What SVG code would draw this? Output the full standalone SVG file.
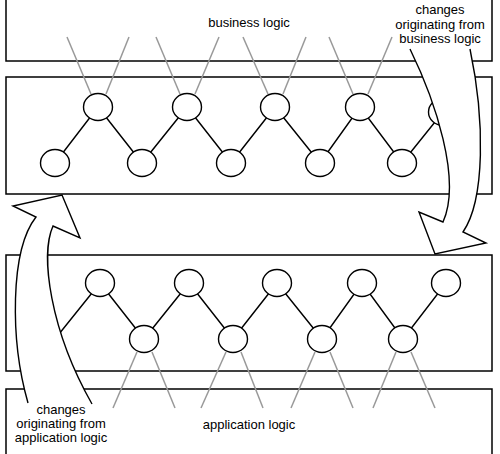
<svg xmlns="http://www.w3.org/2000/svg" width="500" height="454" viewBox="0 0 500 454">
<style>
.box{fill:none;stroke:#000;stroke-width:1.5}
.edge{stroke:#000;stroke-width:1.4}
.gray{stroke:#999;stroke-width:1.5}
.node{fill:#fff;stroke:#000;stroke-width:1.4}
.arrow{fill:#fff;stroke:#000;stroke-width:1.4;stroke-linejoin:miter}
text{font-family:"Liberation Sans",Arial,sans-serif;font-size:13px;fill:#000;text-anchor:middle}
</style>
<rect width="500" height="454" fill="#fff"/>
<g id="layers">
<rect id="layer1" class="box" x="6" y="-10" width="486" height="71"/>
<rect id="layer2" class="box" x="6" y="77" width="486" height="117"/>
<rect id="layer3" class="box" x="6" y="255" width="486" height="116"/>
<rect id="layer4" class="box" x="6" y="389" width="486" height="80"/>
</g>
<g id="connectors">
<g id="gray-top">
<line class="gray" x1="91" y1="94" x2="67" y2="37"/>
<line class="gray" x1="106" y1="94" x2="129" y2="37"/>
<line class="gray" x1="180" y1="94" x2="156" y2="37"/>
<line class="gray" x1="195" y1="94" x2="219" y2="37"/>
<line class="gray" x1="268" y1="94" x2="243" y2="37"/>
<line class="gray" x1="283" y1="94" x2="306" y2="37"/>
<line class="gray" x1="353" y1="94" x2="329" y2="37"/>
<line class="gray" x1="368" y1="94" x2="392" y2="37"/>
</g>
<g id="gray-bottom">
<line class="gray" x1="137" y1="352" x2="113" y2="408"/>
<line class="gray" x1="152" y1="352" x2="175" y2="408"/>
<line class="gray" x1="226" y1="352" x2="201" y2="408"/>
<line class="gray" x1="241" y1="352" x2="263" y2="408"/>
<line class="gray" x1="315" y1="352" x2="291" y2="408"/>
<line class="gray" x1="330" y1="352" x2="353" y2="408"/>
<line class="gray" x1="396" y1="352" x2="373" y2="408"/>
<line class="gray" x1="411" y1="352" x2="435" y2="408"/>
</g>
<g id="edges-upper">
<polyline class="edge" fill="none" points="55,163 98,107 142,163 187,107 231,163 275,107 320,163 360,107 402,163 443,112"/>
</g>
<g id="edges-lower">
<polyline class="edge" fill="none" points="55,339 100,283 144,339 189,283 233,339 277,283 322,339 362,283 403,339 446,283"/>
</g>
</g>
<g id="nodes-upper">
<ellipse id="u1" class="node" cx="55" cy="163" rx="14.5" ry="13.5"/>
<ellipse id="u2" class="node" cx="98" cy="107" rx="14.5" ry="13.5"/>
<ellipse id="u3" class="node" cx="142" cy="163" rx="14.5" ry="13.5"/>
<ellipse id="u4" class="node" cx="187" cy="107" rx="14.5" ry="13.5"/>
<ellipse id="u5" class="node" cx="231" cy="163" rx="14.5" ry="13.5"/>
<ellipse id="u6" class="node" cx="275" cy="107" rx="14.5" ry="13.5"/>
<ellipse id="u7" class="node" cx="320" cy="163" rx="14.5" ry="13.5"/>
<ellipse id="u8" class="node" cx="360" cy="107" rx="14.5" ry="13.5"/>
<ellipse id="u9" class="node" cx="402" cy="163" rx="14.5" ry="13.5"/>
<ellipse id="u10" class="node" cx="443" cy="112" rx="14.5" ry="13.5"/>
</g>
<g id="nodes-lower">
<ellipse id="l2" class="node" cx="100" cy="283" rx="14.5" ry="13.5"/>
<ellipse id="l3" class="node" cx="144" cy="339" rx="14.5" ry="13.5"/>
<ellipse id="l4" class="node" cx="189" cy="283" rx="14.5" ry="13.5"/>
<ellipse id="l5" class="node" cx="233" cy="339" rx="14.5" ry="13.5"/>
<ellipse id="l6" class="node" cx="277" cy="283" rx="14.5" ry="13.5"/>
<ellipse id="l7" class="node" cx="322" cy="339" rx="14.5" ry="13.5"/>
<ellipse id="l8" class="node" cx="362" cy="283" rx="14.5" ry="13.5"/>
<ellipse id="l9" class="node" cx="403" cy="339" rx="14.5" ry="13.5"/>
<ellipse id="l10" class="node" cx="446" cy="283" rx="14.5" ry="13.5"/>
</g>
<g id="arrow-business">
<path class="arrow" d="M410,49 C435,100 462,180 443,222 L419,212 L435,254 L486,243 L463,232 C485,200 485,120 470,49"/>
</g>
<g id="arrow-application">
<path class="arrow" d="M28,403 C10,340 10,250 36,217 L13,206 L62,195 L80,238 L53,226 C40,255 50,330 92,404"/>
</g>
<g id="labels">
<text x="249" y="27">business logic</text>
<text x="440" y="14">changes</text>
<text x="440" y="28.5">originating from</text>
<text x="440" y="43">business logic</text>
<text x="249" y="429">application logic</text>
<text x="61" y="414">changes</text>
<text x="61" y="428">originating from</text>
<text x="61" y="442">application logic</text>
</g>
</svg>
